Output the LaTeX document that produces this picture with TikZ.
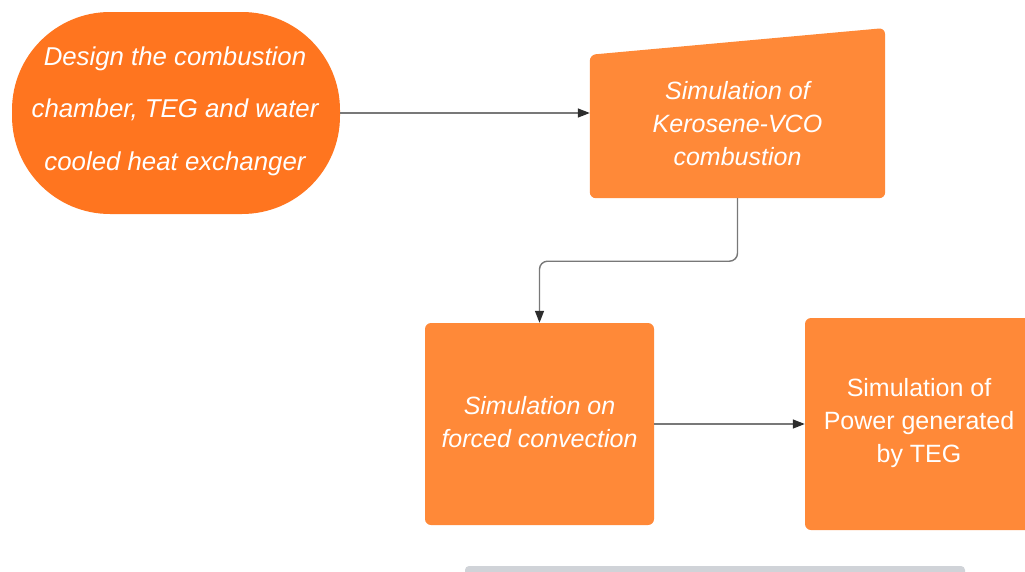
\documentclass[tikz,border=0pt]{standalone}
\usepackage{fontspec}
\setmainfont{Liberation Sans}
\usetikzlibrary{arrows.meta}
\definecolor{darkorange}{RGB}{255,117,31}
\definecolor{boxorange}{RGB}{255,137,56}
\definecolor{linegrey}{RGB}{120,120,120}
\definecolor{tipgrey}{RGB}{45,45,45}
\definecolor{bargrey}{RGB}{208,211,216}
\tikzset{
  txt/.style={text=white, align=center, font=\fontsize{25}{33}\selectfont, inner sep=0pt},
  itxt/.style={txt, font=\fontsize{25}{33}\selectfont\itshape},
  boxnode/.style={fill=boxorange, rounded corners=6pt, inner sep=0pt},
  conn/.style={draw=linegrey, line width=1.4pt, -{Triangle[length=12pt,width=9pt,fill=tipgrey,color=tipgrey]}},
}
\begin{document}
\begin{tikzpicture}[x=1pt,y=-1pt]
\useasboundingbox (0,0) rectangle (1025,571);
\clip (0,0) rectangle (1025,571);
% start terminal
\node[fill=darkorange, rounded corners=98pt, minimum width=328pt, minimum height=202pt, inner sep=0pt] (design) at (176,113) {};
\node[itxt, font=\fontsize{25.8}{52.5}\selectfont\itshape] (designtxt) at (175,111) {Design the combustion\\chamber, TEG and water\\cooled heat exchanger};
% manual input shape
\node[minimum width=295pt, minimum height=143pt, inner sep=0pt] (kero) at (737.5,126.5) {};
\fill[boxorange, rounded corners=6pt] (kero.south west) -- (kero.north west) -- (885,28) -- (kero.south east) -- cycle;
\node[itxt] (kerotxt) at (737.5,124) {Simulation of\\Kerosene-VCO\\combustion};
% forced convection
\node[boxnode, minimum width=229pt, minimum height=202pt] (conv) at (539.5,424) {};
\node[itxt] (convtxt) at (539.5,422) {Simulation on\\forced convection};
% power
\node[boxnode, minimum width=240pt, minimum height=212pt] (power) at (925,424) {};
\node[txt] (powertxt) at (919,423) {Simulation of\\Power generated\\by TEG};
% bottom bar
\node[fill=bargrey, rounded corners=4pt, minimum width=500pt, minimum height=20pt, inner sep=0pt] (bar) at (715,576) {};
% connectors
\draw[conn] (design.east) -- (design.east -| kero.west);
\draw[conn, rounded corners=8pt] (kero.south) -- ++(0,63) -| (conv.north);
\draw[conn] (conv.east) -- (conv.east -| power.west);
\end{tikzpicture}
\end{document}
